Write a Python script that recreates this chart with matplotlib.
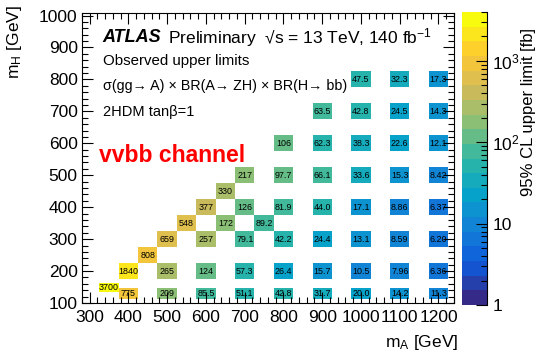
import numpy as np
import matplotlib.pyplot as plt
from matplotlib.colors import LinearSegmentedColormap, LogNorm
from matplotlib.patches import Rectangle
from matplotlib.ticker import MultipleLocator, LogLocator, NullFormatter
from matplotlib.cm import ScalarMappable

plt.rcParams['font.family'] = ['Liberation Sans', 'DejaVu Sans']
plt.rcParams['mathtext.fontset'] = 'custom'
plt.rcParams['mathtext.rm'] = 'Liberation Sans'
plt.rcParams['mathtext.it'] = 'Liberation Sans:italic'
plt.rcParams['mathtext.bf'] = 'Liberation Sans:bold'

# observed upper limits [fb], one list per m_H row
mH_rows = [130, 150, 200, 250, 300, 350, 400, 450, 500, 600, 700, 800]
mA_rows = [
    [400, 500, 600, 700, 800, 900, 1000, 1100, 1200],
    [350],
    [400, 500, 600, 700, 800, 900, 1000, 1100, 1200],
    [450],
    [500, 600, 700, 800, 900, 1000, 1100, 1200],
    [550, 650, 750],
    [600, 700, 800, 900, 1000, 1100, 1200],
    [650],
    [700, 800, 900, 1000, 1100, 1200],
    [800, 900, 1000, 1100, 1200],
    [900, 1000, 1100, 1200],
    [1000, 1100, 1200],
]
limits = [
    [775, 209, 85.5, 51.1, 42.8, 31.7, 20.0, 14.2, 11.3],
    [3700],
    [1840, 265, 124, 57.3, 26.4, 15.7, 10.5, 7.96, 6.36],
    [808],
    [659, 257, 79.1, 42.2, 24.4, 13.1, 8.59, 6.20],
    [548, 172, 89.2],
    [377, 126, 81.9, 44.0, 17.1, 8.86, 6.37],
    [330],
    [217, 97.7, 66.1, 33.6, 15.3, 8.42],
    [106, 62.3, 38.3, 22.6, 12.1],
    [63.5, 42.8, 24.5, 14.3],
    [47.5, 32.3, 17.3],
]
labels = [
    ['775', '209', '85.5', '51.1', '42.8', '31.7', '20.0', '14.2', '11.3'],
    ['3700'],
    ['1840', '265', '124', '57.3', '26.4', '15.7', '10.5', '7.96', '6.36'],
    ['808'],
    ['659', '257', '79.1', '42.2', '24.4', '13.1', '8.59', '6.20'],
    ['548', '172', '89.2'],
    ['377', '126', '81.9', '44.0', '17.1', '8.86', '6.37'],
    ['330'],
    ['217', '97.7', '66.1', '33.6', '15.3', '8.42'],
    ['106', '62.3', '38.3', '22.6', '12.1'],
    ['63.5', '42.8', '24.5', '14.3'],
    ['47.5', '32.3', '17.3'],
]

# ROOT kBird palette, 20 contour bands
bird = [(0.2082, 0.1664, 0.5293), (0.0592, 0.3599, 0.8684), (0.0780, 0.5041, 0.8385),
        (0.0232, 0.6419, 0.7914), (0.1802, 0.7178, 0.6425), (0.5301, 0.7492, 0.4662),
        (0.8186, 0.7328, 0.3499), (0.9956, 0.7862, 0.1968), (0.9764, 0.9832, 0.0539)]
cmap = LinearSegmentedColormap.from_list('bird', bird, N=20)
norm = LogNorm(1, 4000)

fig = plt.figure(figsize=(5.46, 3.58), dpi=100)
ax = fig.add_axes([0.150, 0.1536, 0.6815, 0.8101])

low_h = {130: 36, 150: 28}
for mh, mas, vals, labs in zip(mH_rows, mA_rows, limits, labels):
    h = low_h.get(mh, 50)
    for ma, v, lab in zip(mas, vals, labs):
        ax.add_patch(Rectangle((ma - 25, mh - h / 2), 50, h, facecolor=cmap(norm(v)),
                               edgecolor='none'))
        ax.text(ma, mh, lab, ha='center', va='center', fontsize=6.4, color='black')

ax.set_xlim(280, 1240)
ax.set_ylim(100, 1008)
ax.xaxis.set_major_locator(MultipleLocator(100))
ax.xaxis.set_minor_locator(MultipleLocator(20))
ax.yaxis.set_major_locator(MultipleLocator(100))
ax.yaxis.set_minor_locator(MultipleLocator(20))
ax.tick_params(which='both', direction='in', top=True, right=True, labelsize=12.5)
ax.tick_params(which='major', length=8, width=0.8)
ax.tick_params(which='minor', length=4, width=0.8)
ax.tick_params(axis='x', pad=5)
ax.tick_params(axis='y', pad=3)

fig.text(458 / 546, 1 - 342 / 358, 'm$_{\\mathrm{A}}$ [GeV]', ha='right', va='center', fontsize=12.5)
fig.text(15 / 546, 1 - 42 / 358, 'm$_{\\mathrm{H}}$ [GeV]', ha='center', va='center',
         rotation=90, fontsize=12.5)

ax.text(0.056, 0.914, 'ATLAS', transform=ax.transAxes, fontsize=13, fontweight='bold',
        fontstyle='italic', va='center')
ax.text(0.232, 0.914, 'Preliminary  \u221as = 13 TeV, 140 fb$^{-1}$', transform=ax.transAxes,
        fontsize=12.5, va='center')
ax.text(0.056, 0.834, 'Observed upper limits', transform=ax.transAxes, fontsize=10.8, va='center')
ax.text(0.056, 0.748, '\u03c3(gg\u2192 A) \u00d7 BR(A\u2192 ZH) \u00d7 BR(H\u2192 bb)',
        transform=ax.transAxes, fontsize=10.3, va='center')
ax.text(0.056, 0.659, '2HDM tan\u03b2=1', transform=ax.transAxes, fontsize=10.5, va='center')
ax.text(0.046, 0.51, 'vvbb channel', transform=ax.transAxes, fontsize=16.5, fontweight='bold',
        color='red', va='center')

cax = fig.add_axes([0.846, 0.148, 0.0458, 0.8185])
cb = fig.colorbar(ScalarMappable(norm=norm, cmap=cmap), cax=cax)
cb.outline.set_visible(False)
cax.plot([1, 1], [0, 1], transform=cax.transAxes, color='black', lw=0.8, clip_on=False)
cb.set_ticks([1, 10, 100, 1000])
cb.set_ticklabels(['1', '10', '$10^{2}$', '$10^{3}$'])
cax.yaxis.set_minor_locator(LogLocator(base=10, subs=np.arange(2, 10)))
cax.yaxis.set_minor_formatter(NullFormatter())
cax.tick_params(which='both', direction='in', labelsize=12.5, pad=4)
cax.tick_params(which='major', length=8, width=0.8)
cax.tick_params(which='minor', length=4, width=0.8)
fig.text(528 / 546, 1 - 112 / 358, '95% CL upper limit [fb]', ha='center', va='center',
         rotation=90, fontsize=12)

fig.savefig('out.png', dpi=100)
